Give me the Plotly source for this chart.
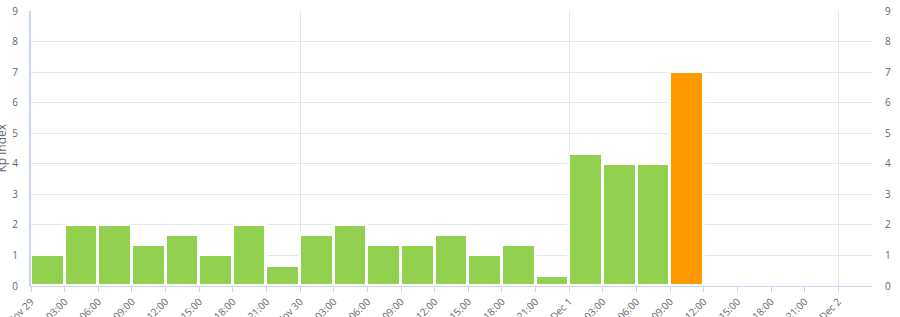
import plotly.graph_objects as go
import pandas as pd

# ---- data ----
interval_starts = [
    "2023-11-29 00:00", "2023-11-29 03:00", "2023-11-29 06:00", "2023-11-29 09:00",
    "2023-11-29 12:00", "2023-11-29 15:00", "2023-11-29 18:00", "2023-11-29 21:00",
    "2023-11-30 00:00", "2023-11-30 03:00", "2023-11-30 06:00", "2023-11-30 09:00",
    "2023-11-30 12:00", "2023-11-30 15:00", "2023-11-30 18:00", "2023-11-30 21:00",
    "2023-12-01 00:00", "2023-12-01 03:00", "2023-12-01 06:00", "2023-12-01 09:00",
]
kp_values = [1, 2, 2, 1.33, 1.67, 1, 2, 0.67,
             1.67, 2, 1.33, 1.33, 1.67, 1, 1.33, 0.33,
             4.33, 4, 4, 7]

tick_times = [
    "2023-11-29 00:00", "2023-11-29 03:00", "2023-11-29 06:00", "2023-11-29 09:00",
    "2023-11-29 12:00", "2023-11-29 15:00", "2023-11-29 18:00", "2023-11-29 21:00",
    "2023-11-30 00:00", "2023-11-30 03:00", "2023-11-30 06:00", "2023-11-30 09:00",
    "2023-11-30 12:00", "2023-11-30 15:00", "2023-11-30 18:00", "2023-11-30 21:00",
    "2023-12-01 00:00", "2023-12-01 03:00", "2023-12-01 06:00", "2023-12-01 09:00",
    "2023-12-01 12:00", "2023-12-01 15:00", "2023-12-01 18:00", "2023-12-01 21:00",
    "2023-12-02 00:00",
]
tick_labels = [
    "Nov 29", "03:00", "06:00", "09:00", "12:00", "15:00", "18:00", "21:00",
    "Nov 30", "03:00", "06:00", "09:00", "12:00", "15:00", "18:00", "21:00",
    "Dec 1", "03:00", "06:00", "09:00", "12:00", "15:00", "18:00", "21:00",
    "Dec 2",
]
day_lines = ["2023-11-29 00:00", "2023-11-30 00:00", "2023-12-01 00:00", "2023-12-02 00:00"]
x_range = ["2023-11-29 00:00", "2023-12-02 03:00"]
y_ticks = [0, 1, 2, 3, 4, 5, 6, 7, 8, 9]

GREEN = "#92D050"
ORANGE = "#FF9900"
bar_colors = [ORANGE if v >= 5 else GREEN for v in kp_values]

three_h = 3 * 3600 * 1000
font = dict(family="Open Sans, DejaVu Sans, sans-serif", size=10, color="#666666")

fig = go.Figure()
fig.add_trace(go.Bar(
    x=pd.to_datetime(interval_starts), y=kp_values,
    width=[three_h] * len(kp_values), offset=0,
    marker=dict(color=bar_colors, line=dict(color="white", width=3)),
    showlegend=False, hoverinfo="x+y",
))
# invisible trace for right axis
fig.add_trace(go.Scatter(x=pd.to_datetime(x_range), y=[0, 9], yaxis="y2", xaxis="x2",
                         mode="markers", marker=dict(opacity=0), showlegend=False,
                         hoverinfo="skip"))

fig.update_layout(
    width=900, height=317,
    margin=dict(l=31, r=28, t=11, b=31),
    plot_bgcolor="white", paper_bgcolor="white",
    bargap=0,
    font=font,
    xaxis=dict(
        type="date", range=x_range,
        tickmode="array", tickvals=pd.to_datetime(tick_times), ticktext=tick_labels,
        tickangle=-45, ticks="outside", ticklen=5, tickcolor="#ccd6eb",
        showgrid=False, showline=True, linecolor="#ccd6eb", linewidth=1,
        zeroline=False, automargin=False, tickfont=font,
    ),
    xaxis2=dict(
        type="date", range=x_range, overlaying="x",
        tickmode="array", tickvals=pd.to_datetime(day_lines),
        showticklabels=False, showgrid=True, gridcolor="#e6e6e6", gridwidth=1,
        zeroline=False, showline=False, automargin=False,
    ),
    yaxis=dict(
        range=[0, 9], tickmode="array", tickvals=y_ticks,
        showgrid=True, gridcolor="#e6e6e6", gridwidth=1,
        zeroline=False, showline=True, linecolor="#ccd6eb", linewidth=2,
        ticklabelstandoff=9, automargin=False, tickfont=font,
    ),
    yaxis2=dict(
        range=[0, 9], overlaying="y", side="right", tickmode="array", tickvals=y_ticks,
        showgrid=False, zeroline=False, showline=False,
        ticklabelstandoff=12, automargin=False, tickfont=font,
    ),
    annotations=[dict(
        text="Kp index", xref="paper", yref="paper", x=0, y=0.5,
        xshift=-30, textangle=-90, showarrow=False,
        xanchor="center", yanchor="middle",
        font=dict(family="Open Sans, DejaVu Sans, sans-serif", size=12, color="#666666"),
    )],
)

fig.write_html("out.html")
